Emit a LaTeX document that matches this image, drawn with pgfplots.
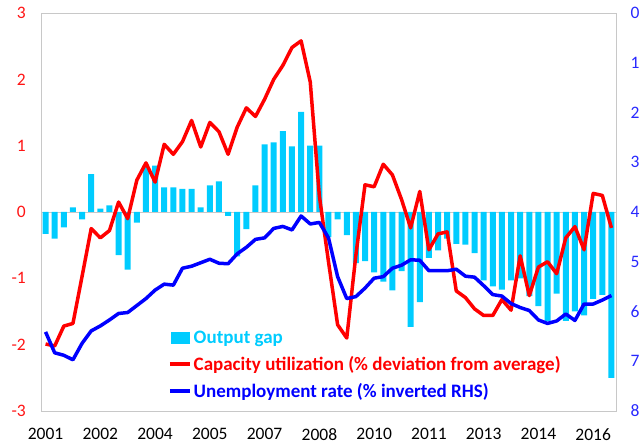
\documentclass[border=0pt]{standalone}
\usepackage{fontspec}
\setmainfont{Carlito}
\usepackage{pgfplots}
\usepackage{pgfplotstable}
\pgfplotsset{compat=1.18}
\definecolor{cbar}{RGB}{0,204,255}
\definecolor{rlab}{RGB}{255,20,20}
\definecolor{blab}{RGB}{40,40,255}
\definecolor{frame}{RGB}{200,200,200}
\pgfplotsset{
 legbar/.style={legend image code/.code={\fill[cbar] (1pt,-5.5pt) rectangle (19pt,5.5pt);}},
 legred/.style={legend image code/.code={\draw[red,line width=3.5pt] (0pt,0pt) -- (20pt,0pt);}},
 legblue/.style={legend image code/.code={\draw[blue,line width=3.5pt] (0pt,0pt) -- (20pt,0pt);}},
}
\pgfplotstableread{
i og cu ur
0 -0.33 -1.99 6.41
1 -0.40 -2.02 6.83
2 -0.23 -1.72 6.88
3 0.07 -1.68 6.97
4 -0.11 -0.97 6.64
5 0.57 -0.25 6.39
6 0.05 -0.39 6.29
7 0.10 -0.28 6.17
8 -0.65 0.15 6.04
9 -0.87 -0.10 6.02
10 -0.16 0.48 5.88
11 0.70 0.74 5.74
12 0.70 0.45 5.57
13 0.37 1.02 5.45
14 0.37 0.87 5.47
15 0.35 1.06 5.13
16 0.35 1.38 5.09
17 0.07 0.98 5.02
18 0.40 1.35 4.95
19 0.46 1.21 5.03
20 -0.06 0.87 5.04
21 -0.67 1.28 4.84
22 -0.26 1.57 4.71
23 0.40 1.44 4.55
24 1.02 1.70 4.52
25 1.05 2.00 4.33
26 1.22 2.21 4.29
27 0.99 2.48 4.36
28 1.51 2.58 4.08
29 1.00 1.96 4.24
30 1.00 0.24 4.21
31 -0.38 -0.75 4.52
32 -0.11 -1.70 5.30
33 -0.35 -1.90 5.74
34 -0.77 -0.65 5.70
35 -0.74 0.41 5.53
36 -0.91 0.38 5.33
37 -1.05 0.72 5.30
38 -1.18 0.56 5.13
39 -0.89 0.19 5.07
40 -1.73 -0.24 4.96
41 -1.36 0.31 4.97
42 -0.69 -0.57 5.18
43 -0.58 -0.33 5.18
44 -0.40 -0.30 5.18
45 -0.48 -1.19 5.15
46 -0.49 -1.29 5.29
47 -0.62 -1.46 5.31
48 -1.03 -1.56 5.48
49 -1.12 -1.56 5.66
50 -1.17 -1.32 5.69
51 -1.03 -1.48 5.84
52 -1.00 -0.66 5.92
53 -1.27 -1.26 5.98
54 -1.42 -0.83 6.17
55 -1.65 -0.75 6.24
56 -1.23 -0.93 6.19
57 -1.64 -0.39 6.05
58 -1.50 -0.22 6.18
59 -1.56 -0.57 5.85
60 -1.31 0.28 5.85
61 -1.25 0.25 5.77
62 -2.50 -0.24 5.68
}\data
\begin{document}
\begin{tikzpicture}
\begin{axis}[
 scale only axis, width=575pt, height=398pt,
 xmin=-0.5, xmax=62.5, ymin=-3, ymax=3,
 xtick={0,6,...,60},
 xticklabels={2001,2002,2004,2005,2007,2008,2010,2011,2013,2014,2016},
 ytick={-3,-2,...,3},
 major tick length=0pt,
 axis line style={draw=frame, line width=0.9pt},
 tick label style={font=\fontsize{17.5}{20}\selectfont},
 /pgf/number format/assume math mode=true,
 yticklabel style={text=rlab, xshift=-11.7pt},
 xticklabel style={text=black, yshift=-14pt},
 extra y ticks={0}, extra y tick labels={},
 extra y tick style={ymajorgrids=true, major grid style={draw=frame, line width=0.9pt}},
]
\addplot[ybar, bar width=6pt, fill=cbar, draw=none, bar shift=0pt] table[x=i, y=og] {\data};
\addplot[red, line width=3.5pt, line join=round, mark=none] table[x=i, y=cu] {\data};
\end{axis}
\begin{axis}[
 scale only axis, width=575pt, height=398pt,
 xmin=-0.5, xmax=62.5, ymin=0, ymax=8, y dir=reverse,
 axis y line*=right, axis x line=none,
 ytick={0,...,8},
 major tick length=0pt,
 axis line style={draw=frame, line width=0.9pt},
 tick label style={font=\fontsize{17.5}{20}\selectfont},
 /pgf/number format/assume math mode=true,
 yticklabel style={text=blab, xshift=11pt},
 legend style={at={(0.2209,0.211)}, anchor=north west, draw=none, fill=none,
   inner sep=0pt, row sep=7pt, column sep=2pt,
   font=\fontsize{19}{22}\selectfont\bfseries, nodes={inner sep=0pt}},
 legend cell align=left,
]
\addlegendimage{legbar}
\addlegendentry[text=cbar, text height=16pt, text depth=4pt]{\textbf{Output gap}}
\addlegendimage{legred}
\addlegendentry[text=red, text height=16pt, text depth=4pt]{\textbf{Capacity utilization (\% deviation from average)}}
\addplot[blue, line width=3.5pt, line join=round, mark=none, legblue] table[x=i, y=ur] {\data};
\addlegendentry[text=blue, text height=16pt, text depth=4pt]{\textbf{Unemployment rate (\% inverted RHS)}}
\end{axis}
\pgfresetboundingbox
\useasboundingbox (-41pt,-36pt) rectangle (602pt,411pt);
\end{tikzpicture}
\end{document}
